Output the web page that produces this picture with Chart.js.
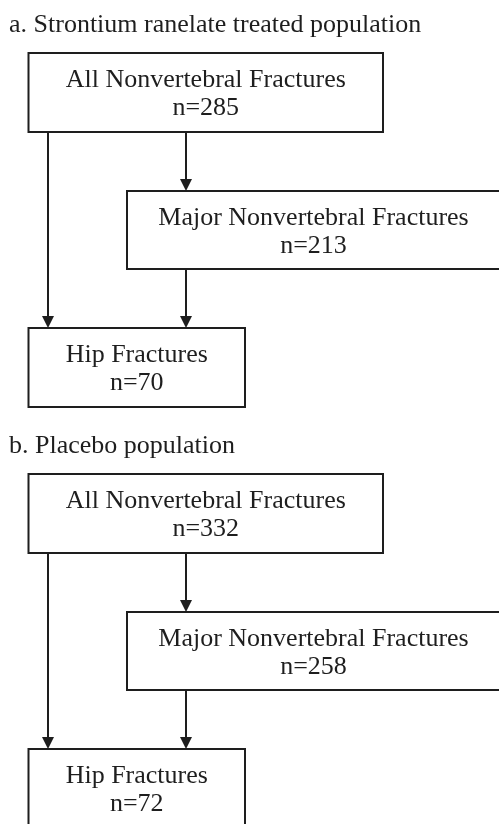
<!DOCTYPE html>
<html lang="en">
  <head>
    <meta charset="UTF-8" />
    <script src="https://cdn.jsdelivr.net/npm/chart.js@4.4.0/dist/chart.umd.min.js"></script>
    <title>Nonvertebral fractures flow</title>
    <style>
      html, body { margin: 0; padding: 0; background: #fff; }
      canvas { display: block; }
    </style>
  </head>
  <body>
    <canvas id="myChart" width="499" height="824"></canvas>
    <script>
      // data
      const panelTitles = ["a. Strontium ranelate treated population", "b. Placebo population"];
      const nodeNames = ["All Nonvertebral Fractures", "Major Nonvertebral Fractures", "Hip Fractures"];
      const strontiumCounts = [285, 213, 70];
      const placeboCounts = [332, 258, 72];
      const panelCounts = [strontiumCounts, placeboCounts];

      // layout in axis units (x 0..499, y 0..824 going down)
      const panelOffset = [0, 421];
      const titlePos = { x: 9, y: 32 };
      const boxes = [
        { x0: 28.5, x1: 383, y0: 53, y1: 132 },
        { x0: 127, x1: 500, y0: 191, y1: 269 },
        { x0: 28.5, x1: 245, y0: 328, y1: 407 },
      ];
      // [from, to, x position of the line]
      const links = [
        [0, 1, 186],
        [0, 2, 48],
        [1, 2, 186],
      ];

      const FONT = '26px "Liberation Serif", "Times New Roman", serif';
      const INK = "#1e1e1e";

      const flowPlugin = {
        id: "flow",
        afterDraw(chart) {
          const ctx = chart.ctx;
          const xs = chart.scales.x, ys = chart.scales.y;
          const px = (v) => xs.getPixelForValue(v);
          const py = (v) => ys.getPixelForValue(v);
          ctx.save();
          ctx.fillStyle = "#fff";
          ctx.fillRect(0, 0, chart.width, chart.height);
          ctx.strokeStyle = INK;
          ctx.fillStyle = INK;
          ctx.lineWidth = 2;
          ctx.font = FONT;

          panelTitles.forEach((title, p) => {
            const off = panelOffset[p];
            ctx.textAlign = "left";
            ctx.textBaseline = "alphabetic";
            ctx.fillText(title, px(titlePos.x), py(titlePos.y + off));

            boxes.forEach((b, i) => {
              const x0 = px(b.x0), x1 = px(b.x1);
              const y0 = py(b.y0 + off), y1 = py(b.y1 + off);
              ctx.strokeRect(x0, y0, x1 - x0, y1 - y0);
              const cx = (x0 + x1) / 2;
              ctx.textAlign = "center";
              ctx.fillText(nodeNames[i], cx, py(b.y0 + off + 34));
              ctx.fillText("n=" + panelCounts[p][i], cx, py(b.y0 + off + 62));
            });

            links.forEach(([from, to, lx]) => {
              const x = px(lx);
              const yA = py(boxes[from].y1 + off);
              const yB = py(boxes[to].y0 + off);
              ctx.beginPath();
              ctx.moveTo(x, yA);
              ctx.lineTo(x, yB - 10);
              ctx.stroke();
              ctx.beginPath();
              ctx.moveTo(x, yB);
              ctx.lineTo(x - 6, yB - 12);
              ctx.lineTo(x + 6, yB - 12);
              ctx.closePath();
              ctx.fill();
            });
          });
          ctx.restore();
        },
      };

      new Chart(document.getElementById("myChart"), {
        type: "scatter",
        data: { datasets: [{ data: [] }] },
        options: {
          responsive: false,
          animation: false,
          layout: { padding: 0 },
          plugins: { legend: { display: false }, tooltip: { enabled: false } },
          scales: {
            x: { type: "linear", min: 0, max: 499, display: false },
            y: { type: "linear", min: 0, max: 824, reverse: true, display: false },
          },
        },
        plugins: [flowPlugin],
      });
    </script>
  </body>
</html>
